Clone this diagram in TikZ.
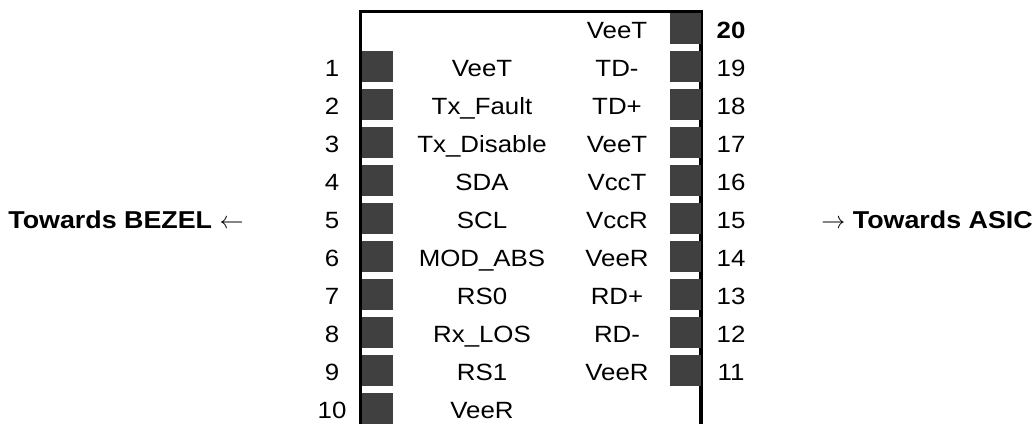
\documentclass[tikz,border=0pt]{standalone}
\usepackage{fontspec}
\setmainfont{Liberation Sans}[FakeStretch=1.1]
\newlength{\du}
\setlength{\du}{0.5pt}
\definecolor{padgray}{rgb}{0.25,0.25,0.25}
\tikzset{
  pad/.style={fill=padgray, draw=none, minimum width=31\du, minimum height=31\du, inner sep=0pt},
  pinname/.style={anchor=base, inner sep=0pt, font=\fontsize{11.75}{14}\selectfont},
  pinnum/.style={anchor=base, inner sep=0pt, font=\fontsize{11.75}{14}\selectfont},
  towards/.style={inner sep=0pt, font=\fontsize{12.2}{14}\selectfont},
  wall/.style={line width=1.6pt, line cap=rect},
}

\begin{document}
\begin{tikzpicture}
\pgftransformxscale{1.000000}
\pgftransformyscale{-1.000000}
\useasboundingbox (0\du,0\du) rectangle (1036\du,423\du);
% connector body
\coordinate (bodyBL) at (360.5\du,423\du);
\coordinate (bodyTL) at (360.5\du,11.5\du);
\coordinate (bodyTR) at (701\du,11.5\du);
\coordinate (bodyBR) at (701\du,423\du);
\draw[wall] (bodyBL) -- (bodyTL) -- (bodyTR) -- (bodyBR);
% left pads, pins 1 to 10
\node[pad] (pad1) at (377.5\du,66.5\du) {};
\node[pad] (pad2) at (377.5\du,104.5\du) {};
\node[pad] (pad3) at (377.5\du,142.5\du) {};
\node[pad] (pad4) at (377.5\du,180.5\du) {};
\node[pad] (pad5) at (377.5\du,218.5\du) {};
\node[pad] (pad6) at (377.5\du,256.5\du) {};
\node[pad] (pad7) at (377.5\du,294.5\du) {};
\node[pad] (pad8) at (377.5\du,332.5\du) {};
\node[pad] (pad9) at (377.5\du,370.5\du) {};
\node[pad] (pad10) at (377.5\du,408.5\du) {};
% right pads, pins 20 to 11
\node[pad] (pad20) at (685\du,28.5\du) {};
\node[pad] (pad19) at (685\du,66.5\du) {};
\node[pad] (pad18) at (685\du,104.5\du) {};
\node[pad] (pad17) at (685\du,142.5\du) {};
\node[pad] (pad16) at (685\du,180.5\du) {};
\node[pad] (pad15) at (685\du,218.5\du) {};
\node[pad] (pad14) at (685\du,256.5\du) {};
\node[pad] (pad13) at (685\du,294.5\du) {};
\node[pad] (pad12) at (685\du,332.5\du) {};
\node[pad] (pad11) at (685\du,370.5\du) {};
% left pin numbers
\node[pinnum] (num1) at (332\du,76\du) {1};
\node[pinnum] (num2) at (332\du,114\du) {2};
\node[pinnum] (num3) at (332\du,152\du) {3};
\node[pinnum] (num4) at (332\du,190\du) {4};
\node[pinnum] (num5) at (332\du,228\du) {5};
\node[pinnum] (num6) at (332\du,266\du) {6};
\node[pinnum] (num7) at (332\du,304\du) {7};
\node[pinnum] (num8) at (332\du,342\du) {8};
\node[pinnum] (num9) at (332\du,380\du) {9};
\node[pinnum] (num10) at (332\du,418\du) {10};
% right pin numbers
\node[pinnum] (num20) at (731\du,38\du) {\textbf{20}};
\node[pinnum] (num19) at (731\du,76\du) {19};
\node[pinnum] (num18) at (731\du,114\du) {18};
\node[pinnum] (num17) at (731\du,152\du) {17};
\node[pinnum] (num16) at (731\du,190\du) {16};
\node[pinnum] (num15) at (731\du,228\du) {15};
\node[pinnum] (num14) at (731\du,266\du) {14};
\node[pinnum] (num13) at (731\du,304\du) {13};
\node[pinnum] (num12) at (731\du,342\du) {12};
\node[pinnum] (num11) at (731\du,380\du) {11};
% left signal names
\node[pinname] (sig1) at (482\du,76\du) {VeeT};
\node[pinname] (sig2) at (482\du,114\du) {Tx\_Fault};
\node[pinname] (sig3) at (482\du,152\du) {Tx\_Disable};
\node[pinname] (sig4) at (482\du,190\du) {SDA};
\node[pinname] (sig5) at (482\du,228\du) {SCL};
\node[pinname] (sig6) at (482\du,266\du) {MOD\_ABS};
\node[pinname] (sig7) at (482\du,304\du) {RS0};
\node[pinname] (sig8) at (482\du,342\du) {Rx\_LOS};
\node[pinname] (sig9) at (482\du,380\du) {RS1};
\node[pinname] (sig10) at (482\du,418\du) {VeeR};
% right signal names
\node[pinname] (sig20) at (617\du,38\du) {VeeT};
\node[pinname] (sig19) at (617\du,76\du) {TD-};
\node[pinname] (sig18) at (617\du,114\du) {TD+};
\node[pinname] (sig17) at (617\du,152\du) {VeeT};
\node[pinname] (sig16) at (617\du,190\du) {VccT};
\node[pinname] (sig15) at (617\du,228\du) {VccR};
\node[pinname] (sig14) at (617\du,266\du) {VeeR};
\node[pinname] (sig13) at (617\du,304\du) {RD+};
\node[pinname] (sig12) at (617\du,342\du) {RD-};
\node[pinname] (sig11) at (617\du,380\du) {VeeR};
% directions
\node[towards, anchor=base east] (bezel) at (244\du,228\du) {\textbf{Towards BEZEL} $\leftarrow$};
\node[towards, anchor=base west] (asic) at (821\du,228\du) {$\rightarrow$ \textbf{Towards ASIC}};
\end{tikzpicture}
\end{document}
